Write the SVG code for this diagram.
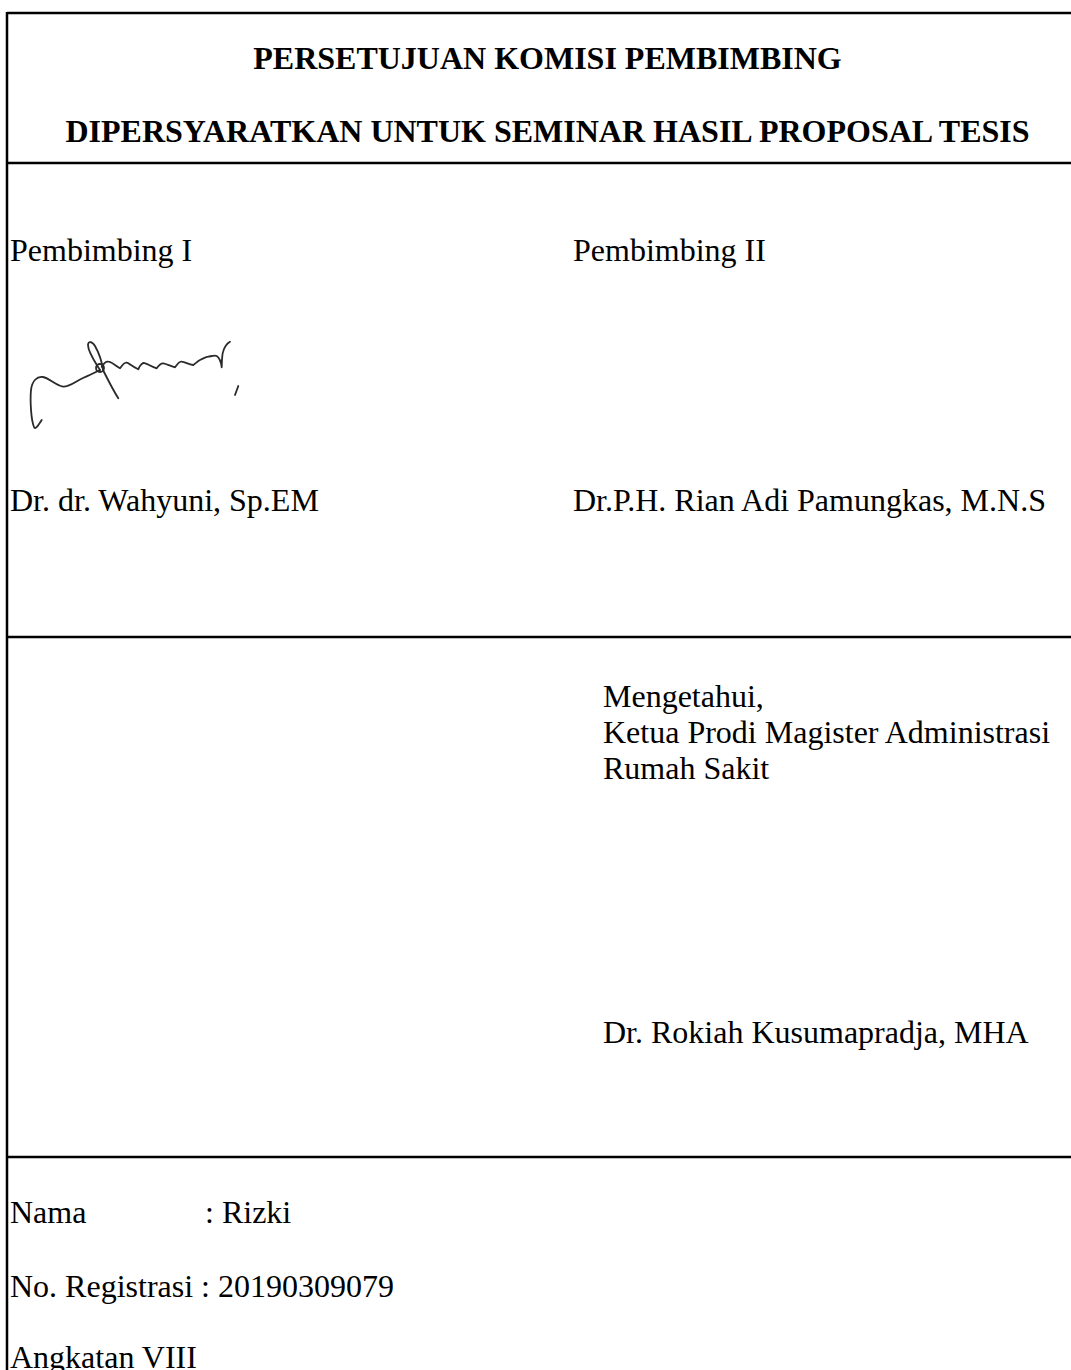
<svg xmlns="http://www.w3.org/2000/svg" width="1071" height="1370" viewBox="0 0 1071 1370">
<style>
  text { font-family: "Liberation Serif", "Times New Roman", serif; font-size: 32px; fill: #000; }
  .title { font-weight: bold; text-anchor: middle; }
  .rule { stroke: #000; stroke-width: 2.5; fill: none; }
  .sig { stroke: #2a2a2a; stroke-width: 1.8; fill: none; stroke-linecap: round; stroke-linejoin: round; }
</style>
<rect width="1071" height="1370" fill="#fff"/>
<g id="frame">
  <line class="rule" x1="7" y1="13" x2="1071" y2="13"/>
  <line class="rule" x1="7" y1="12" x2="7" y2="1370"/>
  <line class="rule" x1="7" y1="163" x2="1071" y2="163"/>
  <line class="rule" x1="7" y1="637" x2="1071" y2="637"/>
  <line class="rule" x1="7" y1="1157" x2="1071" y2="1157"/>
</g>
<g id="header">
  <text class="title" x="547.5" y="69">PERSETUJUAN KOMISI PEMBIMBING</text>
  <text class="title" x="547.5" y="142">DIPERSYARATKAN UNTUK SEMINAR HASIL PROPOSAL TESIS</text>
</g>
<g id="pembimbing1">
  <text x="10" y="261">Pembimbing I</text>
  <g id="signature">
    <path class="sig" d="M41.7,420 C38,426 35,430 34,427 C31,420 30,400 31,390 C32,381 37,376 43,377 C49,378 55,385 63,386.7 C70,387 76,381 83,378 C90,375 96,372 100,370"/>
    <path class="sig" d="M100,370 C95,362 88,352 88,345 C88,341 92,341 95,346 C99,353 102,362 103,370 C108,380 113,390 118.3,398.3"/>
    <circle class="sig" cx="100" cy="368" r="4"/>
    <path class="sig" d="M101.7,366.7 C104,363 106,361 108.3,361.7 C112,362 116,366 120,368.3 C123,364 125,362 126.7,362.7 C129,363 131,366 138.3,369.3 C140,365 143,362 145,363.3 C148,364 150,366 156.7,368.3 C159,365 161,363 163.3,363.3 C167,364 170,366 175,367.3 C178,363 180,361 181.7,361.7 C185,362 188,364 193.3,365 C196,363 198,361 200,360 C204,358 206,357 208.3,356.7 C212,356 215,355 216.7,356 C220,358 221,362 221.7,367.3 C222,360 222,355 223,352 C224,348 226,344 230,341.7"/>
    <path class="sig" d="M238.3,386 L235,395"/>
  </g>
  <text x="10" y="511">Dr. dr. Wahyuni, Sp.EM</text>
</g>
<g id="pembimbing2">
  <text x="573" y="261">Pembimbing II</text>
  <text x="573" y="511">Dr.P.H. Rian Adi Pamungkas, M.N.S</text>
</g>
<g id="ketua">
  <text x="603" y="707">Mengetahui,</text>
  <text x="603" y="743">Ketua Prodi Magister Administrasi</text>
  <text x="603" y="779">Rumah Sakit</text>
  <text x="603" y="1043">Dr. Rokiah Kusumapradja, MHA</text>
</g>
<g id="mahasiswa">
  <text x="10" y="1223">Nama</text>
  <text x="205" y="1223">: Rizki</text>
  <text x="10" y="1297">No. Registrasi : 20190309079</text>
  <text x="10" y="1368">Angkatan VIII</text>
</g>
<g id="connectors"></g>
</svg>
